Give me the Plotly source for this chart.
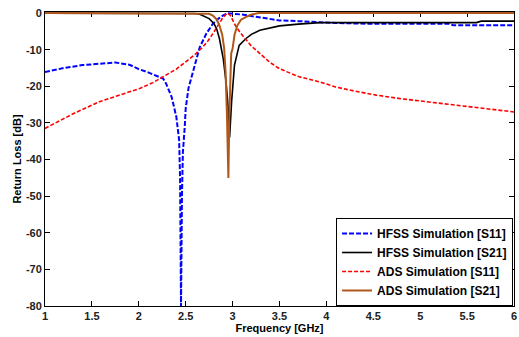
import plotly.graph_objects as go

# HFSS Simulation [S11]
hfss_s11_f = [1.0, 1.2, 1.4, 1.6, 1.75, 1.9, 2.0, 2.1, 2.2, 2.26, 2.29, 2.35, 2.40, 2.43, 2.44, 2.45,
              2.46, 2.47, 2.49, 2.5, 2.53, 2.57, 2.61, 2.65, 2.72, 2.79, 2.85, 2.9, 2.95, 3.0, 3.1,
              3.2, 3.3, 3.4, 3.5, 3.7, 3.9, 4.1, 4.45, 5.0, 5.3, 5.35, 6.0]
hfss_s11_db = [-16.1, -15.0, -14.2, -13.7, -13.5, -14.1, -15.3, -16.2, -17.2, -17.9, -19.2, -22.9, -28.3, -34.7, -45, -80,
               -50, -38, -31, -26, -20.5, -16.6, -12.5, -9.3, -5.6, -2.9, -1.5, -0.6, -0.05, -0.1, -0.4,
               -0.8, -1.2, -1.6, -2.0, -2.2, -2.5, -2.7, -2.9, -2.9, -2.9, -3.3, -3.3]

# HFSS Simulation [S21]
hfss_s21_f = [1.0, 2.5, 2.6, 2.65, 2.7, 2.75, 2.8, 2.83, 2.86, 2.9, 2.93, 2.95, 2.968, 2.99, 3.02,
              3.07, 3.14, 3.2, 3.29, 3.4, 3.5, 3.7, 3.93, 4.5, 5.6, 5.65, 6.0]
hfss_s21_db = [0, 0, -0.1, -0.3, -0.8, -1.5, -2.8, -4.3, -7.0, -12.4, -18.8, -25, -34, -24, -14.2,
               -8.8, -7.0, -5.8, -4.7, -4.0, -3.5, -3.0, -2.6, -2.6, -2.6, -2.2, -2.2]

# ADS Simulation [S11]
ads_s11_f = [1.0, 1.3, 1.58, 1.8, 2.01, 2.15, 2.29, 2.4, 2.5, 2.6, 2.68, 2.74, 2.79, 2.84, 2.89, 2.93,
             2.95, 2.98, 3.03, 3.08, 3.14, 3.2, 3.28, 3.4, 3.5, 3.71, 3.93, 4.1, 4.3, 4.53, 4.8, 5.06,
             5.3, 5.59, 5.8, 6.0]
ads_s11_db = [-31.5, -27.5, -24.2, -22.3, -20.6, -19.0, -17.0, -15.3, -13.3, -11.3, -9.3, -7.5, -5.6, -3.5, -1.5, -0.3,
              0, -0.8, -3.4, -5.3, -7.0, -9.0, -10.8, -13.5, -15.2, -17.4, -18.8, -20.2, -21.3, -22.4, -23.4, -24.2,
              -25.0, -25.8, -26.4, -27.0]

# ADS Simulation [S21]
ads_s21_f = [1.0, 2.7, 2.75, 2.79, 2.83, 2.86, 2.89, 2.91, 2.925, 2.94, 2.955, 2.965, 2.975, 2.985, 3.0,
             3.02, 3.05, 3.09, 3.14, 3.2, 3.28, 6.0]
ads_s21_db = [0, 0, -0.2, -0.7, -1.7, -3.4, -6.0, -9.6, -16, -28, -45, -28, -16, -11, -9.7,
              -6.0, -3.4, -1.8, -1.1, -0.4, 0, 0]

x_ticks = [1, 1.5, 2, 2.5, 3, 3.5, 4, 4.5, 5, 5.5, 6]
x_tick_labels = ["1", "1.5", "2", "2.5", "3", "3.5", "4", "4.5", "5", "5.5", "6"]
y_ticks = [0, -10, -20, -30, -40, -50, -60, -70, -80]
y_tick_labels = ["0", "-10", "-20", "-30", "-40", "-50", "-60", "-70", "-80"]

FONT = "Liberation Sans, Arial, sans-serif"

fig = go.Figure()
fig.add_trace(go.Scatter(x=hfss_s11_f, y=hfss_s11_db, mode="lines", name="HFSS Simulation [S11]",
                         line=dict(color="#0000FF", width=2, dash="5px,2px")))
fig.add_trace(go.Scatter(x=hfss_s21_f, y=hfss_s21_db, mode="lines", name="HFSS Simulation [S21]",
                         line=dict(color="#000000", width=1.6)))
fig.add_trace(go.Scatter(x=ads_s11_f, y=ads_s11_db, mode="lines", name="ADS Simulation [S11]",
                         line=dict(color="#FF0000", width=1.6, dash="4px,2px")))
fig.add_trace(go.Scatter(x=ads_s21_f, y=ads_s21_db, mode="lines", name="ADS Simulation [S21]",
                         line=dict(color="rgb(176,88,28)", width=2)))

axis_common = dict(showline=True, linecolor="black", linewidth=1, mirror="ticks", ticks="inside",
                   ticklen=5, tickcolor="black", showgrid=False, zeroline=False,
                   tickfont=dict(family=FONT, size=11, color="#222", weight="bold"),
                   layer="below traces", ticklabeloverflow="allow")

fig.update_layout(
    width=519, height=337,
    margin=dict(l=45, r=2, t=12, b=31),
    paper_bgcolor="white", plot_bgcolor="white",
    font=dict(family=FONT, size=11, color="black"),
    xaxis=dict(range=[1, 6], tickvals=x_ticks, ticktext=x_tick_labels,
               title=dict(text="Frequency [GHz]", standoff=3,
                          font=dict(family=FONT, size=11, weight="bold")),
               **axis_common),
    yaxis=dict(range=[-80, 0.3], tickvals=y_ticks, ticktext=y_tick_labels,
               title=dict(text="Return Loss [dB]", standoff=2,
                          font=dict(family=FONT, size=11, weight="bold")),
               **axis_common),
    legend=dict(x=0.998, y=0.0, xanchor="right", yanchor="bottom",
                bordercolor="black", borderwidth=1, bgcolor="white",
                font=dict(family=FONT, size=12, weight="bold", color="black"),
                tracegroupgap=0),
)

fig.write_html("out.html", post_script="document.body.style.margin='0';",
               config={"displayModeBar": False})
